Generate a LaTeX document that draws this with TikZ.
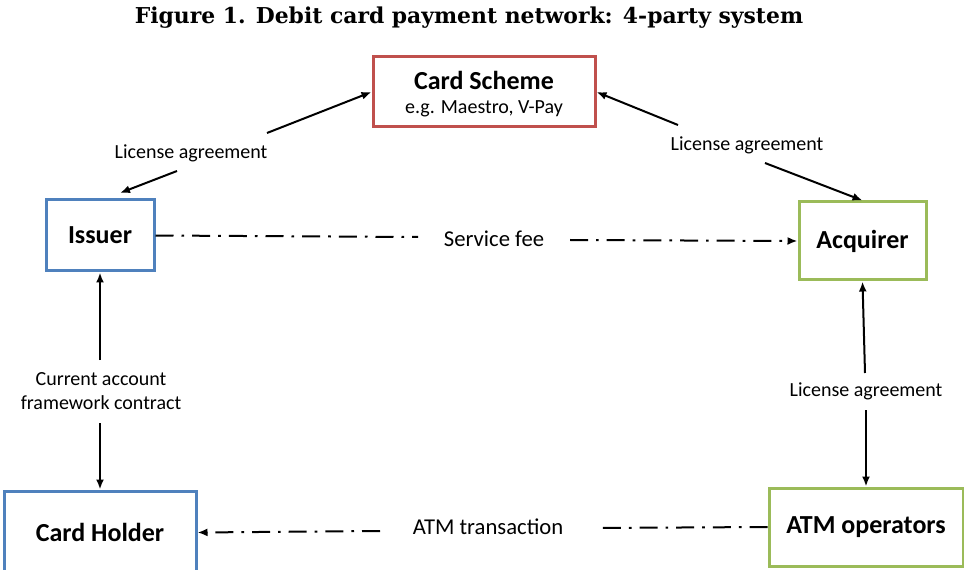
\documentclass[tikz,border=0pt]{standalone}
\usepackage{fontspec}
\setmainfont{Carlito}
\newfontfamily\titlefont{DejaVu Serif}
\usetikzlibrary{arrows.meta}
\definecolor{schemered}{HTML}{C0504D}
\definecolor{issblue}{HTML}{4F81BD}
\definecolor{acqgreen}{HTML}{9BBB59}
\begin{document}
\begin{tikzpicture}[x=0.75pt,y=-0.75pt,
  box/.style={draw, line width=2.25pt, inner sep=0pt, font=\fontsize{19.5}{23}\selectfont\bfseries},
  lbl/.style={inner sep=0pt, font=\fontsize{15}{18}\selectfont, align=center},
  biglbl/.style={inner sep=0pt, font=\fontsize{17}{20}\selectfont},
  arr/.style={line width=1.5pt, -{Latex[length=7.5pt,width=6pt]}},
  dd/.style={line width=1.5pt, dash pattern=on 13.5pt off 6pt on 2pt off 6pt}
]
\useasboundingbox (0,0) rectangle (964,570);
% title
\node[inner sep=0pt, font=\titlefont\bfseries\fontsize{16.4}{19}\selectfont] (title) at (469,18) {Figure 1. Debit card payment network: 4-party system};
% boxes
\node[box, draw=schemered, minimum width=222*0.75pt, minimum height=70*0.75pt] (scheme) at (484,92) {};
\node[inner sep=0pt, font=\fontsize{19.5}{23}\selectfont\bfseries] (schemeT) at (484,80) {Card Scheme};
\node[lbl] (schemeS) at (484,109) {e.g. Maestro, V-Pay};
\node[box, draw=issblue, minimum width=108*0.75pt, minimum height=71*0.75pt] (issuer) at (100,235.5) {Issuer};
\node[box, draw=acqgreen, minimum width=127*0.75pt, minimum height=78*0.75pt] (acquirer) at (862.5,241) {Acquirer};
\node[box, draw=issblue, minimum width=192*0.75pt, minimum height=83*0.75pt] (holder) at (100,532.5) {Card Holder};
\node[box, draw=acqgreen, minimum width=194*0.75pt, minimum height=78*0.75pt] (atm) at (866,527) {ATM operators};
% labels
\node[lbl] (lic1) at (191,153) {License agreement};
\node[lbl] (lic2) at (747,145) {License agreement};
\node[lbl] (lic3) at (866,391) {License agreement};
\node[lbl] (cur) at (101,391) {Current account\\framework contract};
\node[biglbl] (fee) at (494,239) {Service fee};
\node[biglbl] (atmt) at (488,527) {ATM transaction};
% coordinates
\coordinate (i1) at (120,193);
\coordinate (i2) at (177,171);
\coordinate (s1) at (267,133);
\coordinate (s2) at (678,125);
\coordinate (a2) at (765,163);
\coordinate (c1) at (100,360);
\coordinate (c2) at (100,423);
\coordinate (v1) at (865,373);
\coordinate (v2) at (866,410);
\coordinate (f1) at (418,237);
\coordinate (f2) at (570,240);
\coordinate (t1) at (595,528);
\coordinate (t2) at (380,531);
% connectors
\draw[arr] (i2) -- (i1);
\draw[arr] (s1) -- (scheme.west);
\draw[arr] (s2) -- (scheme.east);
\draw[arr] (a2) -- (acquirer.north);
\draw[arr] (c1) -- (issuer.south);
\draw[arr] (c2) -- (holder.north);
\draw[arr] (v1) -- (acquirer.south);
\draw[arr] (v2) -- (atm.north);
\draw[dd] (issuer.east) -- (f1);
\draw[dd,arr] (f2) -- (acquirer.west);
\draw[dd] (atm.west) -- (t1);
\draw[dd,arr] (t2) -- (holder.east);
\end{tikzpicture}
\end{document}
